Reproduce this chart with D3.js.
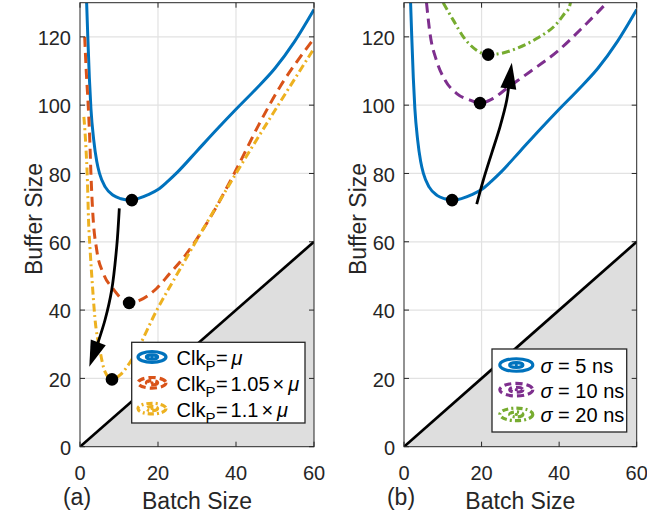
<!DOCTYPE html>
<html><head><meta charset="utf-8">
<script src="https://cdn.jsdelivr.net/npm/d3@7"></script>
<style>
html,body{margin:0;padding:0;background:#fff;}
svg{display:block;font-family:"Liberation Sans",Arial,Helvetica,sans-serif;}
</style></head>
<body>
<svg id="chart" width="647" height="514"></svg>
<script>
// ---------- data ----------
const xTicks = [0, 20, 40, 60];
const yTicks = [0, 20, 40, 60, 80, 100, 120];
const xDomain = [0, 60];
const yDomain = [0, 130];

// sigma = 5 ns, Clk_P = mu
const blueCurve = [[1.7,130],[2,120],[2.4,108],[2.8,99],[3.5,90],[4.3,83.5],[5,80],[6.5,76],[8.5,73.6],[10.5,72.6],[12.8,72.2],[15,72.7],[17.5,73.8],[20,75.3],[22.5,77.7],[25,80.4],[30,86.6],[35,92.8],[40,98.8],[45,104.6],[50,110.8],[55,118.6],[60,128]];
// Clk_P = 1.05 x mu
const orangeCurve = [[1.2,120],[1.6,110],[2.1,100],[2.5,90],[2.8,80],[3.3,68],[4.3,57.5],[6,50.7],[8.5,46.2],[11,43],[12.6,42.1],[15.4,42.9],[19.7,46.4],[23,50.7],[27,56],[34,68.3],[40,81],[46,94.6],[51.3,105.4],[56.4,114],[60,119.5]];
// Clk_P = 1.1 x mu
const yellowCurve = [[1,96.6],[1.5,88],[1.9,78],[2.2,66],[2.6,57.5],[3.2,47],[3.8,38],[5.1,28.3],[6.4,22],[8.2,19.7],[10.3,21],[13.7,26.3],[19.7,40],[26,52.7],[33,66.5],[40,80],[50,98.5],[60,116.6]];
// sigma = 10 ns
const purpleCurve = [[5.8,130],[6.7,121],[8.4,113],[10.6,107.3],[13.6,103.4],[17,101.5],[19.6,100.6],[23,102],[26.5,104.9],[32.5,109.8],[39.4,115.6],[46.2,122.9],[52.3,130]];
// sigma = 20 ns
const greenCurve = [[10.1,130],[12.7,124.9],[15.3,120],[18.7,116.1],[21.7,114.8],[24.8,115.1],[29,116.6],[34.2,119.5],[39.4,123.9],[41.5,127],[42.6,128.6],[43,130.5]];

// optimum points
const dotsA = [[13.3,72.2],[12.6,42.1],[8.2,19.7]];
const dotsB = [[12.4,72.2],[19.6,100.6],[21.7,114.8]];

// annotation arrows (data coordinates)
const arrowA = [[10.08,69.8],[9.41,58.5],[8.13,45.9],[6.41,37.1],[4.28,29.3],[2.38,23.4]];
const arrowB = [[18.75,71.0],[20.45,78.05],[22.6,85.9],[24.75,93.65],[26.5,101.5],[27.8,112.4]];

// infeasible region (buffer < batch)
const diagLine = [[0,0],[60,60]];
const shadeRegion = [[0,0],[60,60],[60,0]];

const legendA = ["mu", "1.05", "1.1"];
const legendB = ["5", "10", "20"];

// ---------- styles ----------
const C = {blue:"#0072BD", orange:"#D95319", yellow:"#EDB120", purple:"#7E2F8E", green:"#77AC30"};
const DASH = {solid:null, dash:"10,6", dashdot:"8,3.5,2,3.5"};
const axisColor = "#262626";

const svg = d3.select("#chart");
const H = {top:2.7, bottom:446.7};

function panel(x0, x1, series, dots, arrow, label, legend) {
  const x = d3.scaleLinear().domain(xDomain).range([x0, x1]);
  const y = d3.scaleLinear().domain(yDomain).range([H.bottom, H.top]);
  const g = svg.append("g");
  const id = "clip" + label;
  svg.append("defs").append("clipPath").attr("id", id)
    .append("rect").attr("x", x0).attr("y", H.top).attr("width", x1 - x0).attr("height", H.bottom - H.top);

  // grid
  g.selectAll(".gx").data(xTicks.slice(1, -1)).join("line")
    .attr("x1", d => x(d)).attr("x2", d => x(d)).attr("y1", H.top).attr("y2", H.bottom)
    .attr("stroke", "#e2e2e2").attr("stroke-width", 1.2);
  g.selectAll(".gy").data(yTicks.slice(1)).join("line")
    .attr("y1", d => y(d)).attr("y2", d => y(d)).attr("x1", x0).attr("x2", x1)
    .attr("stroke", "#e2e2e2").attr("stroke-width", 1.2);

  const cg = g.append("g").attr("clip-path", `url(#${id})`);
  // shaded region + diagonal
  cg.append("path").datum(shadeRegion)
    .attr("d", d3.line().x(d => x(d[0])).y(d => y(d[1])))
    .attr("fill", "#dedede");
  cg.append("path").datum(diagLine)
    .attr("d", d3.line().x(d => x(d[0])).y(d => y(d[1])))
    .attr("stroke", "#000").attr("stroke-width", 2.7).attr("fill", "none");

  const line = d3.line().x(d => x(d[0])).y(d => y(d[1])).curve(d3.curveMonotoneX);
  series.forEach(s => {
    cg.append("path").datum(s.data).attr("d", line)
      .attr("fill", "none").attr("stroke", s.color).attr("stroke-width", 3)
      .attr("stroke-dasharray", DASH[s.dash]);
  });

  // dots
  cg.selectAll(".dot").data(dots).join("circle")
    .attr("cx", d => x(d[0])).attr("cy", d => y(d[1])).attr("r", 6.3).attr("fill", "#000");

  // arrow
  const aLine = d3.line().x(d => x(d[0])).y(d => y(d[1])).curve(d3.curveCatmullRom.alpha(0.5));
  const pts = arrow.map(d => [x(d[0]), y(d[1])]);
  const tip = pts[pts.length - 1], prev = pts[pts.length - 2];
  let dx = tip[0] - prev[0], dy = tip[1] - prev[1];
  const L = Math.hypot(dx, dy); dx /= L; dy /= L;
  const hl = 26, hw = 8;
  const bx = tip[0] - dx * hl, by = tip[1] - dy * hl;
  const shaft = arrow.slice(0, -1).concat([[x.invert(bx + dx * 4), y.invert(by + dy * 4)]]);
  g.append("path").datum(shaft).attr("d", aLine)
    .attr("fill", "none").attr("stroke", "#000").attr("stroke-width", 2.8);
  g.append("path")
    .attr("d", `M${tip[0]},${tip[1]}L${bx - dy * hw},${by + dx * hw}L${bx + dy * hw},${by - dx * hw}Z`)
    .attr("fill", "#000");

  // box and ticks
  g.append("rect").attr("x", x0).attr("y", H.top).attr("width", x1 - x0).attr("height", H.bottom - H.top)
    .attr("fill", "none").attr("stroke", axisColor).attr("stroke-width", 1);
  const tl = 5;
  xTicks.forEach(t => {
    g.append("line").attr("x1", x(t)).attr("x2", x(t)).attr("y1", H.bottom).attr("y2", H.bottom - tl).attr("stroke", axisColor);
    g.append("line").attr("x1", x(t)).attr("x2", x(t)).attr("y1", H.top).attr("y2", H.top + tl).attr("stroke", axisColor);
    g.append("text").attr("x", x(t)).attr("y", H.bottom + 33.5).attr("text-anchor", "middle")
      .attr("font-size", 20).attr("fill", axisColor).text(t);
  });
  yTicks.forEach(t => {
    g.append("line").attr("x1", x0).attr("x2", x0 + tl).attr("y1", y(t)).attr("y2", y(t)).attr("stroke", axisColor);
    g.append("line").attr("x1", x1).attr("x2", x1 - tl).attr("y1", y(t)).attr("y2", y(t)).attr("stroke", axisColor);
    g.append("text").attr("x", x0 - 9).attr("y", y(t) + 8.3).attr("text-anchor", "end")
      .attr("font-size", 20).attr("fill", axisColor).text(t);
  });

  // axis labels
  g.append("text").attr("x", (x0 + x1) / 2).attr("y", 508.5).attr("text-anchor", "middle")
    .attr("font-size", 23).attr("fill", axisColor).text("Batch Size");
  g.append("text").attr("transform", `translate(${x0 - 38.5},${219}) rotate(-90)`).attr("text-anchor", "middle")
    .attr("font-size", 23).attr("fill", axisColor).text("Buffer Size");
  g.append("text").attr("x", x0 - 3).attr("y", 505).attr("text-anchor", "middle")
    .attr("font-size", 23).attr("fill", axisColor).text("(" + label + ")");

  // legend
  const lg = g.append("g");
  lg.append("rect").attr("x", legend.x).attr("y", legend.y).attr("width", legend.w).attr("height", legend.h)
    .attr("fill", "#fff").attr("stroke", axisColor).attr("stroke-width", 1.3);
  series.forEach((s, i) => {
    const cy = legend.base + i * legend.step - legend.iconOff;
    const cx = legend.iconX;
    const ig = lg.append("g").attr("fill", "none").attr("stroke", s.color).attr("stroke-width", 3.2)
      .attr("stroke-dasharray", s.dash === "solid" ? null : (s.dash === "dash" ? "7,4" : "6,3,2,3"));
    ig.append("ellipse").attr("cx", cx).attr("cy", cy).attr("rx", legend.rx).attr("ry", legend.rx * 0.38);
    ig.append("ellipse").attr("cx", cx).attr("cy", cy).attr("rx", legend.rx * 0.4).attr("ry", legend.rx * 0.15);
    lg.append("circle").attr("cx", cx).attr("cy", cy).attr("r", 1.6).attr("fill", s.color);
    const t = lg.append("text").attr("x", legend.textX).attr("y", legend.base + i * legend.step)
      .attr("font-size", 20).attr("fill", "#000");
    legend.render(t, legend.items[i]);
  });
}

function renderClk(t, v) {
  t.append("tspan").text("Clk");
  t.append("tspan").attr("font-size", 15).attr("dy", 6).text("P");
  t.append("tspan").attr("dy", -6).attr("dx", 0.5).text("=");
  if (v === "mu") {
    t.append("tspan").attr("dx", 4).attr("font-style", "italic").text("μ");
  } else {
    t.append("tspan").attr("dx", 3).text(v);
    t.append("tspan").attr("dx", 3).text("×");
    t.append("tspan").attr("dx", 4).attr("font-style", "italic").text("μ");
  }
}
function renderSigma(t, v) {
  t.append("tspan").attr("font-style", "italic").text("σ");
  t.append("tspan").text(" = " + v + " ns");
}

panel(80, 314, [
  {data: blueCurve, color: C.blue, dash: "solid"},
  {data: orangeCurve, color: C.orange, dash: "dash"},
  {data: yellowCurve, color: C.yellow, dash: "dashdot"}
], dotsA, arrowA, "a",
  {x:131.7, y:342.3, w:173.3, h:80.7, base:365, step:25.8, iconOff:8, iconX:152, rx:14, textX:176.5,
   items: legendA, render: renderClk});

panel(404, 636.7, [
  {data: blueCurve, color: C.blue, dash: "solid"},
  {data: purpleCurve, color: C.purple, dash: "dash"},
  {data: greenCurve, color: C.green, dash: "dashdot"}
], dotsB, arrowB, "b",
  {x:492, y:349, w:134.7, h:83, base:373, step:24.7, iconOff:8, iconX:516.3, rx:16.5, textX:540.5,
   items: legendB, render: renderSigma});
</script>
</body></html>
